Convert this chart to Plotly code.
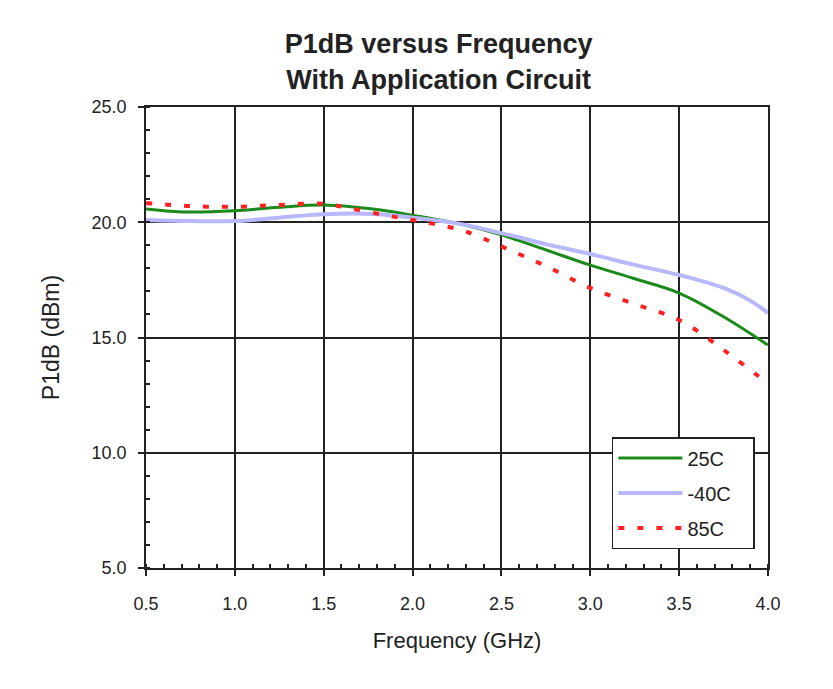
import plotly.graph_objects as go

freq_25 = [0.5, 0.7, 1.0, 1.25, 1.5, 1.8, 2.0, 2.25, 2.5, 2.75, 3.0, 3.25, 3.5, 3.75, 4.0]
p1db_25 = [20.57, 20.45, 20.5, 20.65, 20.75, 20.55, 20.3, 19.95, 19.45, 18.8, 18.14, 17.55, 16.93, 15.9, 14.67]

freq_m40 = [0.5, 0.75, 1.0, 1.25, 1.5, 1.8, 2.0, 2.25, 2.5, 2.75, 3.0, 3.25, 3.5, 3.75, 3.9, 4.0]
p1db_m40 = [20.1, 20.05, 20.05, 20.2, 20.35, 20.35, 20.2, 19.95, 19.53, 19.05, 18.62, 18.15, 17.71, 17.15, 16.6, 16.06]

freq_85 = [0.5, 0.75, 1.0, 1.25, 1.5, 1.65, 1.85, 2.0, 2.15, 2.3, 2.5, 2.75, 3.0, 3.25, 3.5, 3.75, 4.0]
p1db_85 = [20.83, 20.7, 20.67, 20.75, 20.8, 20.6, 20.3, 20.1, 19.88, 19.6, 18.95, 18.1, 17.15, 16.45, 15.76, 14.46, 13.0]

x_ticks = [0.5, 1.0, 1.5, 2.0, 2.5, 3.0, 3.5, 4.0]
y_ticks = [5.0, 10.0, 15.0, 20.0, 25.0]

pad = "&nbsp;" * 3

fig = go.Figure()
fig.add_trace(go.Scatter(x=freq_25, y=p1db_25, name="25C" + pad, mode="lines", legendgroup="a",
                         line=dict(color="#1a8a1a", width=3, shape="spline")))
fig.add_trace(go.Scatter(x=freq_m40, y=p1db_m40, name="-40C" + pad, mode="lines", legendgroup="b",
                         line=dict(color="#b8b8ff", width=4, shape="spline")))
fig.add_trace(go.Scatter(x=freq_85, y=p1db_85, name="85C" + pad, mode="lines", legendgroup="c",
                         line=dict(color="#ff2020", width=4, shape="spline", dash="6px,13px")))

font = "Liberation Sans, Arial, sans-serif"
fig.update_layout(
    width=833, height=689,
    paper_bgcolor="white", plot_bgcolor="white",
    margin=dict(l=138, r=73, t=99, b=129),
    title=dict(text="<b>P1dB versus Frequency<br>With Application Circuit</b>",
               x=0.517, xanchor="center", y=0.934, yanchor="top",
               font=dict(family=font, size=27, color="#222")),
    font=dict(family=font, size=18, color="#222"),
    legend=dict(x=0.749, y=0.284, xanchor="left", yanchor="top",
                bordercolor="#222", borderwidth=1.5, bgcolor="white",
                font=dict(size=20), tracegroupgap=6, itemwidth=64),
    showlegend=True,
)
fig.update_xaxes(
    range=[0.5, 4.0], tickvals=x_ticks, ticktext=[f"{v:.1f}" for v in x_ticks],
    title=dict(text="Frequency (GHz)", font=dict(size=22), standoff=19),
    showline=True, linecolor="#222", linewidth=1.5, mirror=True,
    showgrid=True, gridcolor="#222", gridwidth=1.5,
    ticks="outside", ticklen=6, tickcolor="#222", tickwidth=1.5,
    ticklabelstandoff=13,
    minor=dict(dtick=0.1, ticks="inside", ticklen=4, tickcolor="#222", showgrid=False),
    zeroline=False, tickfont=dict(size=18),
)
fig.update_yaxes(
    range=[5.0, 25.0], tickvals=y_ticks, ticktext=[f"{v:.1f}" for v in y_ticks],
    title=dict(text="P1dB (dBm)", font=dict(size=23), standoff=26),
    showline=True, linecolor="#222", linewidth=1.5, mirror=True,
    showgrid=True, gridcolor="#222", gridwidth=1.5,
    ticks="outside", ticklen=6, tickcolor="#222", tickwidth=1.5,
    ticklabelstandoff=8,
    minor=dict(dtick=1.0, ticks="inside", ticklen=4, tickcolor="#222", showgrid=False),
    zeroline=False, tickfont=dict(size=18),
)

fig.write_html("out.html")
